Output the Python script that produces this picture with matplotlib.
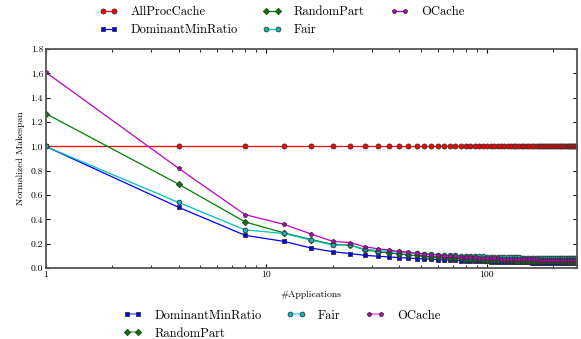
import matplotlib
matplotlib.use("Agg")
import matplotlib.pyplot as plt
from matplotlib.colors import to_rgb
from matplotlib.lines import Line2D
from matplotlib.ticker import FixedLocator, FormatStrFormatter, LogLocator, NullFormatter

plt.rcParams["font.family"] = "serif"
plt.rcParams["font.serif"] = ["cmr10"]
plt.rcParams["axes.formatter.use_mathtext"] = True
plt.rcParams["mathtext.fontset"] = "cm"

# number of applications: 1, then 4..256 by 4
apps = [1] + list(range(4, 257, 4))

all_proc_cache = [
    1.00,
    1.00, 1.00, 1.00, 1.00, 1.00, 1.00, 1.00, 1.00,
    1.00, 1.00, 1.00, 1.00, 1.00, 1.00, 1.00, 1.00,
    1.00, 1.00, 1.00, 1.00, 1.00, 1.00, 1.00, 1.00,
    1.00, 1.00, 1.00, 1.00, 1.00, 1.00, 1.00, 1.00,
    1.00, 1.00, 1.00, 1.00, 1.00, 1.00, 1.00, 1.00,
    1.00, 1.00, 1.00, 1.00, 1.00, 1.00, 1.00, 1.00,
    1.00, 1.00, 1.00, 1.00, 1.00, 1.00, 1.00, 1.00,
    1.00, 1.00, 1.00, 1.00, 1.00, 1.00, 1.00, 1.00,
]
dominant_min_ratio = [
    1.00,
    0.50, 0.27, 0.22, 0.165, 0.135, 0.12, 0.105, 0.098,
    0.092, 0.087, 0.083, 0.079, 0.076, 0.073, 0.070, 0.068,
    0.066, 0.064, 0.062, 0.060, 0.059, 0.058, 0.057, 0.056,
    0.055, 0.054, 0.053, 0.052, 0.052, 0.051, 0.050, 0.050,
    0.049, 0.049, 0.048, 0.048, 0.047, 0.047, 0.047, 0.046,
    0.046, 0.046, 0.045, 0.045, 0.045, 0.044, 0.044, 0.044,
    0.044, 0.043, 0.043, 0.043, 0.043, 0.042, 0.042, 0.042,
    0.042, 0.042, 0.041, 0.041, 0.041, 0.041, 0.041, 0.040,
]
random_part = [
    1.27,
    0.69, 0.38, 0.29, 0.235, 0.195, 0.19, 0.15, 0.135,
    0.125, 0.117, 0.110, 0.104, 0.099, 0.095, 0.091, 0.088,
    0.085, 0.082, 0.080, 0.078, 0.076, 0.074, 0.072, 0.071,
    0.070, 0.069, 0.068, 0.067, 0.066, 0.065, 0.064, 0.064,
    0.063, 0.062, 0.062, 0.061, 0.061, 0.060, 0.060, 0.059,
    0.059, 0.059, 0.058, 0.058, 0.058, 0.057, 0.057, 0.057,
    0.057, 0.056, 0.056, 0.056, 0.056, 0.055, 0.055, 0.055,
    0.055, 0.055, 0.054, 0.054, 0.054, 0.054, 0.054, 0.054,
]
fair = [
    1.00,
    0.54, 0.315, 0.285, 0.23, 0.19, 0.19, 0.155, 0.145,
    0.138, 0.132, 0.127, 0.122, 0.118, 0.115, 0.112, 0.109,
    0.107, 0.105, 0.103, 0.101, 0.100, 0.098, 0.097, 0.096,
    0.095, 0.094, 0.093, 0.092, 0.091, 0.091, 0.090, 0.089,
    0.089, 0.088, 0.088, 0.087, 0.087, 0.086, 0.086, 0.085,
    0.085, 0.085, 0.084, 0.084, 0.084, 0.083, 0.083, 0.083,
    0.083, 0.082, 0.082, 0.082, 0.082, 0.081, 0.081, 0.081,
    0.081, 0.081, 0.080, 0.080, 0.080, 0.080, 0.080, 0.080,
]
ocache = [
    1.61,
    0.82, 0.44, 0.36, 0.28, 0.22, 0.21, 0.175, 0.16,
    0.148, 0.138, 0.130, 0.123, 0.117, 0.112, 0.107, 0.103,
    0.100, 0.097, 0.094, 0.092, 0.090, 0.088, 0.086, 0.085,
    0.083, 0.082, 0.081, 0.080, 0.079, 0.078, 0.077, 0.077,
    0.076, 0.075, 0.075, 0.074, 0.074, 0.073, 0.073, 0.072,
    0.072, 0.072, 0.071, 0.071, 0.071, 0.070, 0.070, 0.070,
    0.070, 0.069, 0.069, 0.069, 0.069, 0.068, 0.068, 0.068,
    0.068, 0.068, 0.067, 0.067, 0.067, 0.067, 0.067, 0.067,
]

y_ticks = [0.0, 0.2, 0.4, 0.6, 0.8, 1.0, 1.2, 1.4, 1.6, 1.8]

series = [
    ("AllProcCache", all_proc_cache, "#ff0000", "o", 3.6),
    ("DominantMinRatio", dominant_min_ratio, "#0000ff", "s", 3.4),
    ("RandomPart", random_part, "#008000", "D", 3.2),
    ("Fair", fair, "#00c0c0", "o", 3.4),
    ("OCache", ocache, "#c000c0", "p", 3.2),
]

fig = plt.figure(figsize=(5.81, 3.39), dpi=100)
ax = fig.add_axes([0.079, 0.209, 0.914, 0.646])

handles = {}
for name, vals, color, marker, ms in series:
    h, = ax.plot(apps, vals, color=color, lw=0.9, marker=marker, ms=ms,
                 mfc=color, mec="#333333", mew=0.6, label=name)
    handles[name] = h

ax.set_xscale("log")
ax.set_xlim(1, 256)
ax.set_ylim(0, 1.8)
ax.xaxis.set_major_locator(FixedLocator([1, 10, 100]))
ax.xaxis.set_major_formatter(FormatStrFormatter("%d"))
ax.xaxis.set_minor_locator(LogLocator(base=10, subs=range(2, 10)))
ax.xaxis.set_minor_formatter(NullFormatter())
ax.set_yticks(y_ticks)
ax.yaxis.set_major_formatter(FormatStrFormatter("%.1f"))
ax.tick_params(which="both", direction="in", top=True, right=True,
               labelsize=7, pad=2)
ax.tick_params(which="major", length=3)
ax.tick_params(which="minor", length=2)
for sp in ax.spines.values():
    sp.set_color("#555555")
    sp.set_linewidth(1.3)

ax.set_xlabel("#Applications", fontsize=7, labelpad=8)
ax.set_ylabel("Normalized Makespan", fontsize=7, labelpad=4)

top_order = ["AllProcCache", "DominantMinRatio", "RandomPart", "Fair", "OCache"]
fig.legend([handles[n] for n in top_order], top_order, loc="upper center",
           bbox_to_anchor=(0.485, 1.015), ncol=3, frameon=False, fontsize=9,
           numpoints=2, handlelength=1.5, handletextpad=1.0,
           columnspacing=2.0, labelspacing=0.45)

# second legend: same entries, lighter line between the markers
bottom_order = ["DominantMinRatio", "RandomPart", "Fair", "OCache"]
bottom_handles = []
for name in bottom_order:
    h = handles[name]
    c = to_rgb(h.get_color())
    light = tuple(0.45 * v + 0.55 for v in c)
    bottom_handles.append(Line2D([], [], color=light, lw=1.6,
                                 marker=h.get_marker(), ms=h.get_markersize(),
                                 mfc=h.get_color(), mec="#333333", mew=0.6))
fig.legend(bottom_handles, bottom_order, loc="lower center",
           bbox_to_anchor=(0.485, -0.035), ncol=3, frameon=False,
           fontsize=9, numpoints=2, handlelength=1.5,
           handletextpad=1.0, columnspacing=2.0, labelspacing=0.45)

fig.savefig("out.png", dpi=100)
